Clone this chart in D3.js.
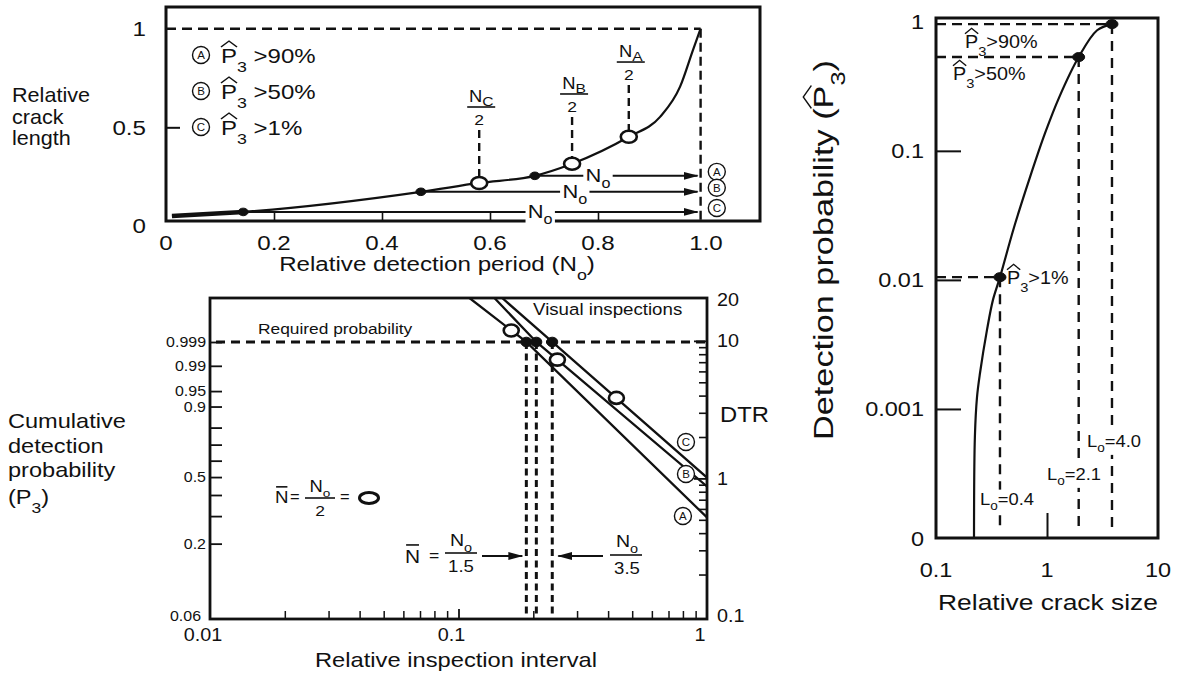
<!DOCTYPE html>
<html><head><meta charset="utf-8">
<script src="https://cdn.jsdelivr.net/npm/d3@7/dist/d3.min.js"></script>
<style>
html,body{margin:0;padding:0;background:#fff;}
svg{display:block;}
text{font-family:"Liberation Sans",Arial,Helvetica,sans-serif;fill:#111;}
</style></head><body>
<svg id="chart" width="1179" height="675"></svg>
<script>
// ================= DATA =================
// Panel 1: relative crack length vs relative detection period
const periodX  = [0.011, 0.143, 0.472, 0.58, 0.683, 0.752, 0.857, 0.915, 0.952, 0.976, 0.99];
const crackLen = [0.05, 0.071, 0.173, 0.218, 0.254, 0.315, 0.452, 0.553, 0.706, 0.893, 1.0];
const classes = ["A", "B", "C"];
const thresholdText = [">90%", ">50%", ">1%"];
const startPeriod = [0.683, 0.472, 0.143];      // detection start (filled dots) A, B, C
const startCrack  = [0.254, 0.173, 0.071];
const halfPeriod  = [0.857, 0.752, 0.58];        // N_A/2, N_B/2, N_C/2 (open circles)
const halfCrack   = [0.452, 0.315, 0.218];
const halfLabelLevel = [0.831, 0.669, 0.603];    // fraction-bar level of the N/2 labels
const noLabelPeriod = [0.80, 0.757, 0.693];      // where the "No" text sits on each arrow
const endPeriod = 0.99;
const xTickVals1 = [0, 0.2, 0.4, 0.6, 0.8, 1.0];
const xTickLabels1 = ["0", "0.2", "0.4", "0.6", "0.8", "1.0"];
const yTickVals1 = [0, 0.5, 1];
const yTickLabels1 = ["0", "0.5", "1"];

// Panel 2: cumulative detection probability / DTR vs relative inspection interval
const intervalA = [0.1107, 0.1875, 1.0], dtrA = [20.5, 9.82, 0.52];
const intervalB = [0.1395, 0.2057, 1.0], dtrB = [20.5, 9.82, 0.874];
const intervalC = [0.1499, 0.2384, 1.0], dtrC = [20.5, 9.82, 1.015];
const halfInterval = [0.163, 0.25, 0.432];
const halfDTR = [11.9, 7.3, 3.85];
const requiredP = 0.999;
const requiredInterval = [0.1875, 0.2057, 0.2384];
const classLabelInterval = [0.80, 0.823, 0.823];
const classLabelDTR = [0.533, 1.076, 1.84];
const pTickVals = [0.2, 0.3, 0.4, 0.5, 0.6, 0.7, 0.8, 0.9, 0.95, 0.99, 0.999];
const pLabelVals = [0.06, 0.2, 0.5, 0.9, 0.95, 0.99, 0.999];
const pLabels = ["0.06", "0.2", "0.5", "0.9", "0.95", "0.99", "0.999"];
const dtrLabelVals = [0.1, 1, 10, 20];
const dtrLabels = ["0.1", "1", "10", "20"];
const xLabelVals2 = [0.01, 0.1, 1];
const xLabels2 = ["0.01", "0.1", "1"];

// Panel 3: detection probability vs relative crack size
const crackSize  = [0.220, 0.224, 0.234, 0.249, 0.288, 0.326, 0.377, 0.505, 0.703, 0.96, 1.29, 1.93, 2.83, 3.85];
const detectProb = [1e-4, 6.06e-4, 0.00123, 0.00189, 0.0041, 0.0070, 0.0105, 0.0256, 0.0626, 0.137, 0.261, 0.533, 0.86, 0.96];
const thresholdP = [0.96, 0.533, 0.0105];
const thresholdL = [3.85, 1.93, 0.377];
const lengthLabels = ["4.0", "2.1", "0.4"];
const yLabelVals3 = [1, 0.1, 0.01, 0.001, 1e-4];
const yLabels3 = ["1", "0.1", "0.01", "0.001", "0"];
const xLabelVals3 = [0.1, 1, 10];
const xLabels3 = ["0.1", "1", "10"];

// ================= HELPERS =================
const INK = "#111";
const SX = 1.15;
const svg = d3.select("#chart");
const defs = svg.append("defs");
defs.append("marker").attr("id", "arr").attr("markerUnits", "userSpaceOnUse")
  .attr("viewBox", "0 -5 15 10").attr("refX", 14).attr("refY", 0)
  .attr("markerWidth", 15).attr("markerHeight", 10).attr("orient", "auto")
  .append("path").attr("d", "M0,-4L15,0L0,4Z").attr("fill", INK);

function rich(parent, x, y, segs, o = {}) {
  const size = o.size || 20;
  const g = parent.append("g").attr("transform",
    `translate(${x},${y})${o.rotate ? ` rotate(${o.rotate})` : ""} scale(${o.sx || SX},1)`);
  const t = g.append("text").attr("font-size", size).attr("text-anchor", o.anchor || "start");
  let cur = 0, idx = 0;
  const marks = [];
  segs.forEach(s => {
    const seg = typeof s === "string" ? { t: s } : s;
    const off = seg.sub ? (seg.subDy !== undefined ? seg.subDy : size * 0.45) : 0;
    const ts = t.append("tspan").text(seg.t);
    if (off - cur !== 0) ts.attr("dy", off - cur);
    if (seg.sub) ts.attr("font-size", size * (seg.subSize || 0.74));
    if (seg.hat || seg.bar) marks.push({ i: idx, hat: seg.hat, bar: seg.bar });
    idx += seg.t.length;
    cur = off;
  });
  marks.forEach(m => {
    const b = t.node().getExtentOfChar(m.i);
    if (m.hat) g.append("path")
      .attr("d", `M${b.x},${-0.8 * size}L${b.x + b.width / 2},${-1.1 * size}L${b.x + b.width},${-0.8 * size}`)
      .attr("fill", "none").attr("stroke", INK).attr("stroke-width", 1.3);
    if (m.bar) g.append("line").attr("x1", b.x + 1).attr("x2", b.x + b.width - 1)
      .attr("y1", -0.95 * size).attr("y2", -0.95 * size).attr("stroke", INK).attr("stroke-width", 1.6);
  });
  if (o.bg) {
    const bb = t.node().getBBox();
    g.insert("rect", "text").attr("x", bb.x - 2).attr("y", bb.y).attr("width", bb.width + 4)
      .attr("height", bb.height).attr("fill", "#fff");
  }
  return g;
}
function circled(parent, x, y, letter, r) {
  parent.append("circle").attr("cx", x).attr("cy", y).attr("r", r)
    .attr("fill", "#fff").attr("stroke", INK).attr("stroke-width", 1.4);
  parent.append("text").attr("x", x).attr("y", y + r * 0.48).attr("text-anchor", "middle")
    .attr("font-size", r * 1.35).text(letter);
}
function frame(g, xs, ys, w) {
  const [xa, xb] = xs.range(), [ya, yb] = ys.range();
  g.append("rect").attr("x", Math.min(xa, xb)).attr("y", Math.min(ya, yb))
    .attr("width", Math.abs(xb - xa)).attr("height", Math.abs(yb - ya))
    .attr("fill", "none").attr("stroke", INK).attr("stroke-width", w);
}
function ticks(g, axis, tx, ty, w) {
  const a = g.append("g").attr("transform", `translate(${tx},${ty})`).call(axis);
  a.select(".domain").remove();
  a.selectAll("text").remove();
  a.selectAll("line").attr("stroke", INK).attr("stroke-width", w || 1.6);
  return a;
}
function dashed(g, x1, y1, x2, y2, dash, w) {
  g.append("line").attr("x1", x1).attr("y1", y1).attr("x2", x2).attr("y2", y2)
    .attr("stroke", INK).attr("stroke-width", w || 2.4).attr("stroke-dasharray", dash || "9,6");
}
function ell(g, x, y, rx, ry, filled, w) {
  g.append("ellipse").attr("cx", x).attr("cy", y).attr("rx", rx).attr("ry", ry)
    .attr("fill", filled ? INK : "#fff").attr("stroke", INK).attr("stroke-width", w || 2.4);
}
function arrow(g, xa, ya, xb, yb, w) {
  g.append("line").attr("x1", xa).attr("y1", ya).attr("x2", xb).attr("y2", yb)
    .attr("stroke", INK).attr("stroke-width", w || 2).attr("marker-end", "url(#arr)");
}
function fraction(parent, cx, barY, num, den, size, x0, x1, numDx, numDy) {
  rich(parent, cx + (numDx || 0), barY - (numDy || 5), num, { size, anchor: "middle" });
  parent.append("line").attr("x1", x0).attr("x2", x1).attr("y1", barY).attr("y2", barY)
    .attr("stroke", INK).attr("stroke-width", 1.6);
  rich(parent, cx, barY + size * 1.1, [den], { size: size * 0.95, anchor: "middle" });
}

// ================= PANEL 1 =================
const p1 = svg.append("g");
const x1 = d3.scaleLinear([0, 1.1], [166, 760]);
const y1 = d3.scaleLinear([0.025, 1.11], [221, 7]);
frame(p1, x1, y1, 3);
ticks(p1, d3.axisTop(x1).tickValues([0.2, 0.4, 0.6, 0.8]).tickSize(10), 0, y1.range()[0]);
ticks(p1, d3.axisRight(y1).tickValues([0.5]).tickSize(14), x1.range()[0], 0, 2);
xTickVals1.forEach((v, i) => rich(p1, x1(v), y1.range()[0] + 29, [xTickLabels1[i]], { size: 21, anchor: "middle" }));
yTickVals1.forEach((v, i) => rich(p1, x1.range()[0] - 20, y1(v) + 7.5, [yTickLabels1[i]], { size: 21, anchor: "end" }));
rich(p1, 437, 271, ["Relative detection period (N", { t: "o", sub: true }, ")"], { size: 21, anchor: "middle" });
["Relative", "crack", "length"].forEach((s, i) => rich(p1, 12, 102 + 21.5 * i, [s], { size: 20, sx: 1.08 }));

// reference lines
dashed(p1, x1(0), y1(1), x1(endPeriod), y1(1), "10,6", 2.4);
dashed(p1, x1(endPeriod), y1(1), x1(endPeriod), y1.range()[0], "9,5", 2.4);

// curve
const line1 = d3.line().x(d => x1(d[0])).y(d => y1(d[1])).curve(d3.curveMonotoneX);
const pts1 = periodX.map((v, i) => [v, crackLen[i]]);
p1.append("path").attr("d", line1(pts1)).attr("fill", "none").attr("stroke", INK).attr("stroke-width", 2.2);
p1.append("path").attr("d", line1(pts1.slice(0, 2))).attr("fill", "none").attr("stroke", INK).attr("stroke-width", 4.5);

// N/2 labels
classes.forEach((c, i) => {
  const cx = x1(halfPeriod[i]), barY = y1(halfLabelLevel[i]);
  dashed(p1, cx, barY + 23, cx, y1(halfCrack[i]) - 6, "8,5", 2.4);
  fraction(p1, cx, barY, ["N", { t: c, sub: true, subDy: 4, subSize: 0.85 }], "2", 16, cx - 12, cx + 16, 2, 5);
});
// arrows No
classes.forEach((c, i) => {
  const y = y1(startCrack[i]);
  arrow(p1, x1(startPeriod[i]) + 5, y, x1(endPeriod) - 3, y, 2);
  rich(p1, x1(noLabelPeriod[i]), y + 6.5, ["N", { t: "o", sub: true, subDy: 6 }], { size: 19, anchor: "middle", bg: true });
  circled(p1, x1(1.02), y - 4, c, 8.5);
});
// markers
halfPeriod.forEach((v, i) => ell(p1, x1(v), y1(halfCrack[i]), 8, 6, false, 2.6));
startPeriod.forEach((v, i) => ell(p1, x1(v), y1(startCrack[i]), 5, 3.8, true, 1));
// legend
classes.forEach((c, i) => {
  const cy = 55 + 36 * i;
  circled(p1, 201, cy, c, 8.5);
  rich(p1, 221, cy + 8, [{ t: "P", hat: true }, { t: "3", sub: true }, " " + thresholdText[i]], { size: 20, sx: 1.2 });
});

// ================= PANEL 2 =================
const p2 = svg.append("g");
const wb = p => Math.log(-Math.log(1 - p));           // Weibull probability paper
const x2 = d3.scaleLog([0.01, 1], [210, 707]);
const yP = d3.scaleLinear([wb(0.06), wb(0.999)], [619, 342]);
const yD = d3.scaleLog([0.095, 20.5], [619, 298]);
defs.append("clipPath").attr("id", "clip2").append("rect")
  .attr("x", 210).attr("y", yD.range()[1]).attr("width", x2.range()[1] - x2.range()[0]).attr("height", yD.range()[0] - yD.range()[1]);
frame(p2, x2, yD, 2.8);
// ticks
const minor2 = [2, 3, 4, 5, 6, 7, 8, 9].flatMap(k => [k * 0.01, k * 0.1]);
ticks(p2, d3.axisTop(x2).tickValues(minor2).tickSize(8), 0, 619, 1.5);
ticks(p2, d3.axisTop(x2).tickValues([0.1]).tickSize(10), 0, 619, 1.8);
ticks(p2, d3.axisRight(yP).tickValues(pTickVals.map(wb)).tickSize(12), 210, 0, 1.8);
const minorD = [2, 3, 4, 5, 6, 7, 8, 9].flatMap(k => [k * 0.1, k * 1]);
ticks(p2, d3.axisLeft(yD).tickValues(minorD).tickSize(8), 707, 0, 1.6);
ticks(p2, d3.axisLeft(yD).tickValues([1, 10]).tickSize(13), 707, 0, 1.8);
// labels
pLabelVals.forEach((v, i) => rich(p2, v === 0.06 ? 201 : 206, yP(wb(v)) + (v === 0.06 ? 2 : 5), [pLabels[i]], { size: 14.5, anchor: "end", sx: 1.1 }));
xLabelVals2.forEach((v, i) => rich(p2, x2(v) - 7, 641, [xLabels2[i]], { size: 18, anchor: "middle", sx: 1.1 }));
dtrLabelVals.forEach((v, i) => rich(p2, 717, yD(v) + 6.5, [dtrLabels[i]], { size: 18, sx: 1.1 }));
rich(p2, 720, 422, ["DTR"], { size: 22, sx: 1.08 });
rich(p2, 456, 667, ["Relative inspection interval"], { size: 21, anchor: "middle", sx: 1.13 });
["Cumulative", "detection", "probability"].forEach((s, i) => rich(p2, 8, 428 + 24.5 * i, [s], { size: 20.5, sx: 1.15 }));
rich(p2, 8, 504, ["(P", { t: "3", sub: true }, ")"], { size: 20.5, sx: 1.15 });
rich(p2, 258, 334, ["Required probability"], { size: 15.5, sx: 1.12 });
rich(p2, 533, 315, ["Visual inspections"], { size: 17, sx: 1.1 });

// required probability lines
dashed(p2, x2(0.01) + 6, yP(wb(requiredP)), x2(1), yP(wb(requiredP)), "9,6", 3);
requiredInterval.forEach(v => dashed(p2, x2(v), yP(wb(requiredP)), x2(v), 619, "7,4.5", 3));
// DTR lines
const line2 = d3.line().x(d => x2(d[0])).y(d => yD(d[1]));
const clipG = p2.append("g").attr("clip-path", "url(#clip2)");
[[intervalA, dtrA], [intervalB, dtrB], [intervalC, dtrC]].forEach(([xs, ys]) =>
  clipG.append("path").attr("d", line2(xs.map((v, i) => [v, ys[i]])))
    .attr("fill", "none").attr("stroke", INK).attr("stroke-width", 2.3));
requiredInterval.forEach(v => ell(p2, x2(v), yP(wb(requiredP)), 5.5, 4.8, true, 1));
halfInterval.forEach((v, i) => ell(p2, x2(v), yD(halfDTR[i]), 7.5, 6, false, 2.6));
classes.forEach((c, i) => circled(p2, x2(classLabelInterval[i]), yD(classLabelDTR[i]), c, 8.5));

// N = No/2 legend
rich(p2, 275, 503, [{ t: "N", bar: true }], { size: 17, sx: 1.1 });
rich(p2, 290, 502, ["="], { size: 15, sx: 1.1 });
fraction(p2, 320, 498, ["N", { t: "o", sub: true, subDy: 5 }], "2", 16, 305, 335, 0, 6);
rich(p2, 340, 502, ["="], { size: 15, sx: 1.1 });
ell(p2, 369, 498, 9.5, 5.5, false, 3);

// arrows to dashed lines
const arrY = 556;
rich(p2, 405, 563, [{ t: "N", bar: true }], { size: 19, sx: 1.1 });
rich(p2, 429, 561, ["="], { size: 16, sx: 1.1 });
fraction(p2, 461, 553, ["N", { t: "o", sub: true, subDy: 6 }], "1.5", 17, 445, 477, 0, 7);
arrow(p2, 482, arrY, x2(requiredInterval[0]) - 4, arrY, 2.2);
arrow(p2, 603, arrY, x2(requiredInterval[2]) + 6, arrY, 2.2);
fraction(p2, 627, 555, ["N", { t: "o", sub: true, subDy: 6 }], "3.5", 17, 610, 642, 0, 8);

// ================= PANEL 3 =================
const p3 = svg.append("g");
const x3 = d3.scaleLog([0.1, 10], [936, 1158]);
const y3 = d3.scaleLog([1e-4, 1.07], [538, 18]);
frame(p3, x3, y3, 3);
ticks(p3, d3.axisRight(y3).tickValues([0.001, 0.01, 0.1]).tickSize(25), 936, 0, 2);
ticks(p3, d3.axisTop(x3).tickValues([1]).tickSize(25), 0, 538, 2);
yLabelVals3.forEach((v, i) => rich(p3, 924, y3(v) + 7.5, [yLabels3[i]], { size: 21, anchor: "end", sx: 1.12 }));
xLabelVals3.forEach((v, i) => rich(p3, x3(v), 577, [xLabels3[i]], { size: 21, anchor: "middle", sx: 1.12 }));
rich(p3, 1048, 610, ["Relative crack size"], { size: 22, anchor: "middle", sx: 1.2 });
rich(p3, 833, 250, ["Detection probability (", { t: "P", hat: true }, { t: "3", sub: true }, ")"], { size: 27, anchor: "middle", rotate: -90, sx: 1.27 });

// threshold dashed lines
thresholdP.forEach((p, i) => {
  dashed(p3, x3(0.1), y3(p), x3(thresholdL[i]), y3(p), "10,6", 2.4);
  dashed(p3, x3(thresholdL[i]), y3(p), x3(thresholdL[i]), 530, "10,7", 2.4);
});
const line3 = d3.line().x(d => x3(d[0])).y(d => y3(d[1])).curve(d3.curveCatmullRom.alpha(0.5));
p3.append("path").attr("d", line3(crackSize.map((v, i) => [v, detectProb[i]])))
  .attr("fill", "none").attr("stroke", INK).attr("stroke-width", 2.2);
thresholdP.forEach((p, i) => ell(p3, x3(thresholdL[i]), y3(p), 6, 4.5, true, 1));
// labels
rich(p3, 965, y3(thresholdP[0]) + 24, [{ t: "P", hat: true }, { t: "3", sub: true }, thresholdText[0]], { size: 18, sx: 1.1 });
rich(p3, 953, y3(thresholdP[1]) + 23, [{ t: "P", hat: true }, { t: "3", sub: true }, thresholdText[1]], { size: 18, sx: 1.1 });
rich(p3, 1007, y3(thresholdP[2]) + 7, [{ t: "P", hat: true }, { t: "3", sub: true }, thresholdText[2]], { size: 18, sx: 1.1 });
const lPos = [[1087, 447], [1047, 480], [980, 505]];
lengthLabels.forEach((s, i) => rich(p3, lPos[i][0], lPos[i][1], ["L", { t: "o", sub: true, subDy: 5 }, "=" + s], { size: 17, sx: 1.08, bg: true }));
</script>
</body></html>
